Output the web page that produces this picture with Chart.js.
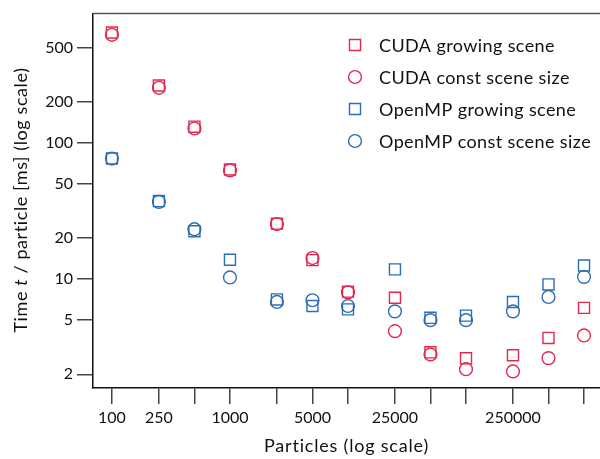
<!DOCTYPE html>
<html>
<head>
<meta charset="utf-8">
<script src="https://cdn.jsdelivr.net/npm/chart.js@4.4.0/dist/chart.umd.min.js"></script>
<style>
  html, body { margin: 0; padding: 0; background: #fff; }
  #wrap { width: 600px; height: 459px; position: relative; }
</style>
</head>
<body>
<div id="wrap"><canvas id="c"></canvas></div>
<script>
const particles = [100, 250, 500, 1000, 2500, 5000, 10000, 25000, 50000, 100000, 250000, 500000, 1000000];
const cudaGrowing = [650, 265, 132, 64, 25.6, 13.8, 8.1, 7.3, 2.9, 2.62, 2.76, 3.7, 6.15];
const cudaConst   = [625, 255, 128, 63, 25.4, 14.3, 8.0, 4.15, 2.8, 2.18, 2.1, 2.63, 3.86];
const ompGrowing  = [77, 37.5, 22.5, 13.9, 7.1, 6.35, 6.0, 11.8, 5.2, 5.4, 6.8, 9.15, 12.6];
const ompConst    = [77, 37, 23.3, 10.3, 6.8, 7.0, 6.35, 5.8, 5.0, 5.0, 5.8, 7.4, 10.4];
const xTickLabels = [100, 250, 1000, 5000, 25000, 250000];
const yTicks = [2, 5, 10, 20, 50, 100, 200, 500];
const seriesNames = ['CUDA growing scene', 'CUDA const scene size', 'OpenMP growing scene', 'OpenMP const scene size'];

const RED = '#e3284f';
const BLUE = '#2c6db4';
const FONT = 'Lato, "Open Sans", sans-serif';

function pts(arr) { return particles.map((p, i) => ({ x: p, y: arr[i] })); }

const styles = [
  { color: RED, style: 'rect', r: 7.8 },
  { color: RED, style: 'circle', r: 6.4 },
  { color: BLUE, style: 'rect', r: 7.8 },
  { color: BLUE, style: 'circle', r: 6.4 }
];
const seriesData = [cudaGrowing, cudaConst, ompGrowing, ompConst];

const datasets = seriesData.map((arr, i) => ({
  label: seriesNames[i],
  data: pts(arr),
  pointStyle: styles[i].style,
  pointRadius: styles[i].r,
  pointHoverRadius: styles[i].r,
  pointBorderColor: styles[i].color,
  borderColor: styles[i].color,
  pointBackgroundColor: 'rgba(0,0,0,0)',
  backgroundColor: 'rgba(0,0,0,0)',
  pointBorderWidth: 1.4,
  showLine: false
}));

const decorPlugin = {
  id: 'decor',
  afterDraw(chart) {
    const ctx = chart.ctx;
    const a = chart.chartArea;
    ctx.save();
    // top frame line
    ctx.strokeStyle = '#555';
    ctx.lineWidth = 1.5;
    ctx.beginPath();
    ctx.moveTo(a.left, a.top);
    ctx.lineTo(a.right, a.top);
    ctx.stroke();

    // legend
    ctx.font = '18px ' + FONT;
    ctx.letterSpacing = '0.4px';
    ctx.textBaseline = 'middle';
    ctx.textAlign = 'left';
    const lx = 355, tx = 379, ly0 = 45, dy = 32;
    seriesNames.forEach((name, i) => {
      const y = ly0 + i * dy;
      ctx.strokeStyle = styles[i].color;
      ctx.fillStyle = 'rgba(0,0,0,0)';
      ctx.lineWidth = 1.4;
      Chart.helpers.drawPoint(ctx, { pointStyle: styles[i].style, radius: styles[i].r, rotation: 0, borderWidth: 1.4 }, lx, y);
      ctx.fillStyle = '#111';
      ctx.fillText(name, tx, y + 1);
    });

    // x title
    ctx.fillStyle = '#111';
    ctx.textAlign = 'center';
    ctx.textBaseline = 'middle';
    ctx.font = '18px ' + FONT;
    ctx.letterSpacing = '0.8px';
    ctx.fillText('Particles (log scale)', (a.left + a.right) / 2, 446);

    // y title with italic t
    ctx.translate(21, 200);
    ctx.rotate(-Math.PI / 2);
    ctx.letterSpacing = '0.6px';
    const parts = [
      { t: 'Time ', f: '18px ' + FONT },
      { t: 't', f: 'italic 18px ' + FONT },
      { t: ' / particle [ms] (log scale)', f: '18px ' + FONT }
    ];
    let total = 0;
    parts.forEach(p => { ctx.font = p.f; p.w = ctx.measureText(p.t).width; total += p.w; });
    let x = -total / 2;
    ctx.textAlign = 'left';
    parts.forEach(p => { ctx.font = p.f; ctx.fillText(p.t, x, 0); x += p.w; });
    ctx.restore();
  }
};

new Chart(document.getElementById('c'), {
  type: 'scatter',
  data: { datasets },
  options: {
    responsive: true,
    maintainAspectRatio: false,
    animation: false,
    layout: { autoPadding: false, padding: { top: 13, right: 0, left: 0, bottom: 0 } },
    plugins: { legend: { display: false }, tooltip: { enabled: false } },
    scales: {
      x: {
        type: 'logarithmic',
        min: 69.1,
        max: 1366000,
        afterFit(scale) { scale.height = 71; },
        afterBuildTicks(scale) { scale.ticks = particles.map(v => ({ value: v })); },
        ticks: {
          autoSkip: false,
          maxRotation: 0,
          minRotation: 0,
          padding: 4,
          color: '#111',
          font: { family: FONT, size: 16 },
          callback: (v) => xTickLabels.includes(v) ? String(v) : ''
        },
        grid: { drawOnChartArea: false, drawTicks: true, tickLength: 16, color: '#444', lineWidth: 1.5 },
        border: { display: true, color: '#111', width: 1.5 }
      },
      y: {
        type: 'logarithmic',
        min: 1.586,
        max: 894.6,
        afterFit(scale) { scale.width = 93; },
        afterBuildTicks(scale) { scale.ticks = yTicks.map(v => ({ value: v })); },
        ticks: {
          autoSkip: false,
          padding: 4,
          color: '#111',
          font: { family: FONT, size: 16 },
          callback: (v) => String(v)
        },
        grid: { drawOnChartArea: false, drawTicks: true, tickLength: 16, color: '#444', lineWidth: 1.5 },
        border: { display: true, color: '#111', width: 1.5 }
      }
    }
  },
  plugins: [decorPlugin]
});
</script>
</body>
</html>
